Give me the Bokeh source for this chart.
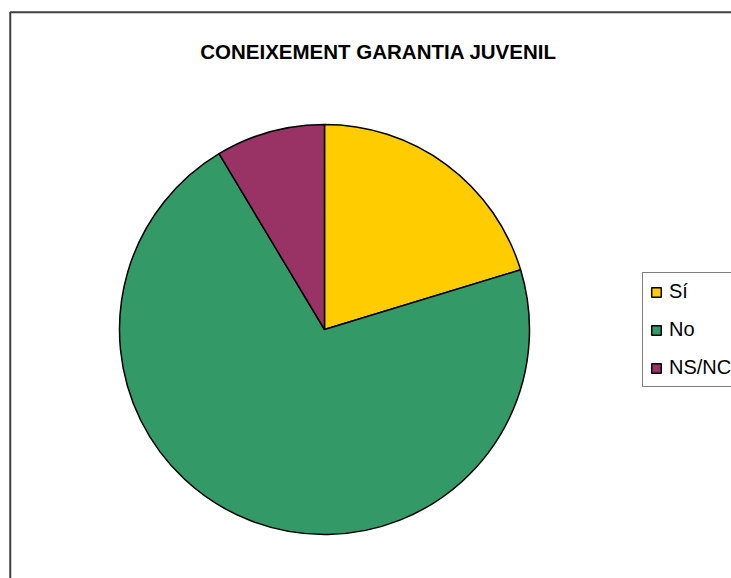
import numpy as np
from bokeh.plotting import figure
from bokeh.models import ColumnDataSource, Range1d, Legend, LegendItem
from bokeh.embed import file_html
from bokeh.resources import INLINE
from bokeh.core.properties import value

# ---- data ----
title_text = "CONEIXEMENT GARANTIA JUVENIL"
categories = ["Sí", "No", "NS/NC"]
values = [20.3, 71.1, 8.6]
colors = ["#FFCC00", "#339966", "#993366"]

# ---- layout (pixel-based data space) ----
W, H = 731, 578
cx, cy, r = 324, 249, 205

vals = np.array(values, dtype=float)
frac = vals / vals.sum()
cum = np.concatenate([[0.0], np.cumsum(frac)])
start = np.pi / 2 - 2 * np.pi * cum[:-1]
end = np.pi / 2 - 2 * np.pi * cum[1:]

src = ColumnDataSource(dict(cat=categories, val=values, color=colors,
                            start=start, end=end))

p = figure(width=W, height=H, output_backend="svg", toolbar_location=None,
           x_range=Range1d(0, W), y_range=Range1d(0, H),
           min_border=0, min_border_left=0, min_border_right=0,
           min_border_top=0, min_border_bottom=0)
p.axis.visible = False
p.grid.visible = False
p.outline_line_color = None
p.background_fill_color = "white"
p.border_fill_color = "white"

# chart frame (left & top visible edges)
p.line([9.75, 9.75, W + 5], [-5, 566.25, 566.25], line_color="#404040", line_width=2)

wr = p.wedge(x=cx, y=cy, radius=r, start_angle="start", end_angle="end",
             direction="clock", fill_color="color", line_color="black",
             line_width=1.5, source=src)

p.text(x=[378], y=[527], text=[title_text], text_align="center",
       text_baseline="alphabetic", text_font=value("Liberation Sans"),
       text_font_style="bold", text_font_size="20.5px", text_color="black")

items = [LegendItem(label=c, renderers=[wr], index=i) for i, c in enumerate(categories)]
legend = Legend(items=items, location=(642, 191), orientation="vertical",
                glyph_width=12, glyph_height=12, label_standoff=7,
                label_text_font="Liberation Sans",
                label_text_font_size="20px", label_text_color="black",
                label_height=20, spacing=15, padding=7, margin=0,
                border_line_color="#000000", border_line_width=1,
                background_fill_color="white", background_fill_alpha=1.0)
p.add_layout(legend)

open("out.html", "w").write(file_html(p, INLINE))
